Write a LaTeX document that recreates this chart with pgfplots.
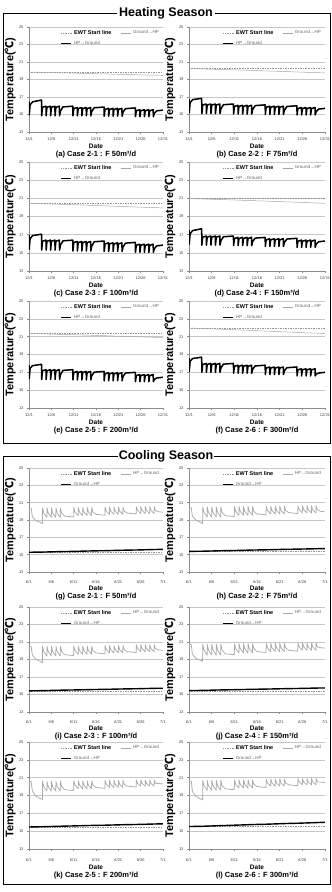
\documentclass[border=0pt]{standalone}
\usepackage{fontspec}
\setmainfont{Liberation Sans}
\newfontfamily\cjk{Noto Sans CJK KR}
\usepackage{pgfplots}
\pgfplotsset{compat=1.18}
\pgfplotsset{
  every axis title shift=0pt,
  panel/.style={
    scale only axis, width=134pt, height=105pt,
    xmin=0, xmax=30, ymin=13, ymax=25,
    ytick={13,15,17,19,21,23,25}, xtick={0,5,10,15,20,25,30},
    axis lines=left, axis line style={-, draw=black!45, line width=0.5pt},
    ymajorgrids, grid style={black!22, line width=0.5pt},
    tick style={draw=black!45, line width=0.4pt}, major tick length=2pt, tick align=outside,
    tick label style={font=\fontsize{4}{4}\selectfont, text=black!75},
    /pgf/number format/assume math mode=true,
    xlabel={Date},
    xlabel style={font=\bfseries\fontsize{6.5}{6.5}\selectfont, at={(axis description cs:0.5,0)}, anchor=center, yshift=-14pt},
    ylabel={Temperature({\cjk ℃})},
    ylabel style={font=\bfseries\fontsize{11}{11}\selectfont, at={(axis description cs:-0.14,0.5)}, anchor=center},
    title style={font=\bfseries\fontsize{7.5}{7.5}\selectfont, at={(axis description cs:0.5,0)}, anchor=center, yshift=-22.5pt},
    legend style={draw=none, fill=none, at={(axis description cs:0.985,0.99)}, anchor=north east,
      font=\fontsize{4.5}{5}\selectfont, text=black!60, inner sep=0pt, row sep=1.5pt,
      /tikz/every even column/.append style={column sep=7pt}},
    legend columns=2, legend cell align=left,
    legend image code/.code={\draw[#1] (0pt,0pt) -- (10pt,0pt);},
  },
  heat/.style={panel, xticklabels={12/1,12/6,12/11,12/16,12/21,12/26,12/31},
    legend entries={{\textcolor{black}{\bfseries\fontsize{5.5}{5.5}\selectfont EWT Start line}},{Ground→HP},{},{HP→Ground}}},
  cool/.style={panel, xticklabels={6/1,6/6,6/11,6/16,6/21,6/26,7/1},
    xticklabel style={yshift=-3pt}, xlabel style={yshift=-2.5pt}, title style={yshift=-2pt},
    legend entries={{\textcolor{black}{\bfseries\fontsize{5.5}{5.5}\selectfont EWT Start line}},{HP→Ground},{},{Ground→HP}}},
  ewt/.style={black!42, densely dotted, line width=0.65pt},
  ghp/.style={black!35, line width=0.5pt},
  hpg/.style={black, line width=1.5pt, line join=round},
  cgray/.style={black!33, line width=0.75pt, line join=round},
  cblack/.style={black, line width=1.4pt},
}
\begin{document}
\begin{tikzpicture}
\path[use as bounding box] (0pt,0pt) rectangle (332pt,-892pt);
% frames
\draw[line width=0.9pt] (117pt,-13pt) -- (3pt,-13pt) -- (3pt,-443pt) -- (330pt,-443pt) -- (330pt,-13pt) -- (215pt,-13pt);
\node[font=\bfseries\fontsize{12.5}{12.5}\selectfont] at (166pt,-13pt) {Heating Season};
\draw[line width=0.9pt] (118pt,-456pt) -- (3pt,-456pt) -- (3pt,-884pt) -- (330pt,-884pt) -- (330pt,-456pt) -- (214pt,-456pt);
\node[font=\bfseries\fontsize{12.5}{12.5}\selectfont] at (166pt,-456pt) {Cooling Season};

% (a)
\begin{axis}[heat, at={(29pt,-132pt)}, anchor=south west, height=105pt, title={(a) Case 2-1 : F 50m³/d}]
\addplot[ewt] coordinates {(0,19.85) (30,19.85)};
\addplot[ghp] coordinates {(0,19.85) (5,19.8) (10,19.73) (15,19.66) (20,19.6) (25,19.53) (30,19.48)};
\addlegendimage{empty legend}
\addplot[hpg] coordinates {(0,16.5) (0.05,14.95) (0.25,16.1) (0.8,16.45) (2.8,16.65)
(2.84,14.85) (3.02,15.83) (3.8,15.95) (3.84,14.85) (4.02,15.83) (4.8,15.95) (4.84,14.85) (5.02,15.83) (5.8,15.95) (5.84,14.85) (6.02,15.83) (6.8,15.95)
(6.84,14.85) (7.05,15.4) (7.6,15.87) (9.8,15.95)
(9.84,14.85) (10.02,15.68) (10.8,15.8) (10.84,14.85) (11.02,15.68) (11.8,15.8) (11.84,14.85) (12.02,15.68) (12.8,15.8) (12.84,14.85) (13.02,15.68) (13.8,15.8)
(13.84,14.85) (14.05,15.35) (14.6,15.77) (16.8,15.85)
(16.84,14.8) (17.02,15.58) (17.8,15.7) (17.84,14.8) (18.02,15.58) (18.8,15.7) (18.84,14.8) (19.02,15.58) (19.8,15.7) (19.84,14.8) (20.02,15.58) (20.8,15.7)
(20.84,14.8) (21.05,15.28) (21.6,15.67) (23.8,15.75)
(23.84,14.75) (24.02,15.43) (24.8,15.55) (24.84,14.75) (25.02,15.43) (25.8,15.55) (25.84,14.75) (26.02,15.43) (26.8,15.55) (26.84,14.75) (27.02,15.43) (27.8,15.55)
(27.84,14.75) (28.05,15.13) (28.6,15.42) (30,15.5)};
\end{axis}

% (b)
\begin{axis}[heat, at={(189pt,-132pt)}, anchor=south west, width=136pt, height=105pt, title={(b) Case 2-2 : F 75m³/d}]
\addplot[ewt] coordinates {(0,20.25) (30,20.25)};
\addplot[ghp] coordinates {(0,20.25) (5,20.18) (10,20.1) (15,20.02) (20,19.93) (25,19.84) (30,19.75)};
\addlegendimage{empty legend}
\addplot[hpg] coordinates {(0,16.75) (0.05,15.2) (0.25,16.35) (0.8,16.7) (2.8,16.85)
(2.84,15.1) (3.02,16.08) (3.8,16.2) (3.84,15.1) (4.02,16.08) (4.8,16.2) (4.84,15.1) (5.02,16.08) (5.8,16.2) (5.84,15.1) (6.02,16.08) (6.8,16.2)
(6.84,15.1) (7.05,15.65) (7.6,16.12) (9.8,16.2)
(9.84,15.05) (10.02,15.93) (10.8,16.05) (10.84,15.05) (11.02,15.93) (11.8,16.05) (11.84,15.05) (12.02,15.93) (12.8,16.05) (12.84,15.05) (13.02,15.93) (13.8,16.05)
(13.84,15.05) (14.05,15.58) (14.6,16.02) (16.8,16.1)
(16.84,15.0) (17.02,15.83) (17.8,15.95) (17.84,15.0) (18.02,15.83) (18.8,15.95) (18.84,15.0) (19.02,15.83) (19.8,15.95) (19.84,15.0) (20.02,15.83) (20.8,15.95)
(20.84,15.0) (21.05,15.5) (21.6,15.92) (23.8,16.0)
(23.84,14.95) (24.02,15.68) (24.8,15.8) (24.84,14.95) (25.02,15.68) (25.8,15.8) (25.84,14.95) (26.02,15.68) (26.8,15.8) (26.84,14.95) (27.02,15.68) (27.8,15.8)
(27.84,14.95) (28.05,15.33) (28.6,15.62) (30,15.7)};
\end{axis}

% (c)
\begin{axis}[heat, at={(29pt,-271pt)}, anchor=south west, height=109pt, title={(c) Case 2-3 : F 100m³/d}]
\addplot[ewt] coordinates {(0,20.45) (30,20.45)};
\addplot[ghp] coordinates {(0,20.45) (5,20.38) (10,20.3) (15,20.21) (20,20.12) (25,20.03) (30,19.95)};
\addlegendimage{empty legend}
\addplot[hpg] coordinates {(0,16.95) (0.05,15.4) (0.25,16.55) (0.8,16.9) (2.8,17.05)
(2.84,15.3) (3.02,16.28) (3.8,16.4) (3.84,15.3) (4.02,16.28) (4.8,16.4) (4.84,15.3) (5.02,16.28) (5.8,16.4) (5.84,15.3) (6.02,16.28) (6.8,16.4)
(6.84,15.3) (7.05,15.85) (7.6,16.32) (9.8,16.4)
(9.84,15.2) (10.02,16.13) (10.8,16.25) (10.84,15.2) (11.02,16.13) (11.8,16.25) (11.84,15.2) (12.02,16.13) (12.8,16.25) (12.84,15.2) (13.02,16.13) (13.8,16.25)
(13.84,15.2) (14.05,15.75) (14.6,16.22) (16.8,16.3)
(16.84,15.15) (17.02,15.98) (17.8,16.1) (17.84,15.15) (18.02,15.98) (18.8,16.1) (18.84,15.15) (19.02,15.98) (19.8,16.1) (19.84,15.15) (20.02,15.98) (20.8,16.1)
(20.84,15.15) (21.05,15.65) (21.6,16.07) (23.8,16.15)
(23.84,15.05) (24.02,15.83) (24.8,15.95) (24.84,15.05) (25.02,15.83) (25.8,15.95) (25.84,15.05) (26.02,15.83) (26.8,15.95) (26.84,15.05) (27.02,15.83) (27.8,15.95)
(27.84,15.05) (28.05,15.45) (28.6,15.77) (30,15.85)};
\end{axis}

% (d)
\begin{axis}[heat, at={(189pt,-271pt)}, anchor=south west, width=136pt, height=109pt, title={(d) Case 2-4 : F 150m³/d}]
\addplot[ewt] coordinates {(0,20.97) (30,20.97)};
\addplot[ghp] coordinates {(0,20.97) (5,20.9) (10,20.82) (15,20.73) (20,20.64) (25,20.55) (30,20.45)};
\addlegendimage{empty legend}
\addplot[hpg] coordinates {(0,17.5) (0.05,15.95) (0.25,17.1) (0.8,17.45) (2.8,17.65)
(2.84,15.85) (3.02,16.73) (3.8,16.85) (3.84,15.85) (4.02,16.73) (4.8,16.85) (4.84,15.85) (5.02,16.73) (5.8,16.85) (5.84,15.85) (6.02,16.73) (6.8,16.85)
(6.84,15.85) (7.05,16.35) (7.6,16.77) (9.8,16.85)
(9.84,15.8) (10.02,16.58) (10.8,16.7) (10.84,15.8) (11.02,16.58) (11.8,16.7) (11.84,15.8) (12.02,16.58) (12.8,16.7) (12.84,15.8) (13.02,16.58) (13.8,16.7)
(13.84,15.8) (14.05,16.25) (14.6,16.62) (16.8,16.7)
(16.84,15.7) (17.02,16.43) (17.8,16.55) (17.84,15.7) (18.02,16.43) (18.8,16.55) (18.84,15.7) (19.02,16.43) (19.8,16.55) (19.84,15.7) (20.02,16.43) (20.8,16.55)
(20.84,15.7) (21.05,16.15) (21.6,16.52) (23.8,16.6)
(23.84,15.6) (24.02,16.28) (24.8,16.4) (24.84,15.6) (25.02,16.28) (25.8,16.4) (25.84,15.6) (26.02,16.28) (26.8,16.4) (26.84,15.6) (27.02,16.28) (27.8,16.4)
(27.84,15.6) (28.05,15.95) (28.6,16.22) (30,16.3)};
\end{axis}

% (e)
\begin{axis}[heat, at={(29pt,-408pt)}, anchor=south west, height=107pt, title={(e) Case 2-5 : F 200m³/d}]
\addplot[ewt] coordinates {(0,21.35) (30,21.35)};
\addplot[ghp] coordinates {(0,21.35) (5,21.29) (10,21.22) (15,21.14) (20,21.06) (25,20.98) (30,20.9)};
\addlegendimage{empty legend}
\addplot[hpg] coordinates {(0,17.8) (0.05,16.3) (0.25,17.45) (0.8,17.75) (2.8,17.9)
(2.84,16.2) (3.02,17.18) (3.8,17.3) (3.84,16.2) (4.02,17.18) (4.8,17.3) (4.84,16.2) (5.02,17.18) (5.8,17.3) (5.84,16.2) (6.02,17.18) (6.8,17.3)
(6.84,16.2) (7.05,16.75) (7.6,17.22) (9.8,17.3)
(9.84,16.15) (10.02,16.98) (10.8,17.1) (10.84,16.15) (11.02,16.98) (11.8,17.1) (11.84,16.15) (12.02,16.98) (12.8,17.1) (12.84,16.15) (13.02,16.98) (13.8,17.1)
(13.84,16.15) (14.05,16.63) (14.6,17.02) (16.8,17.1)
(16.84,16.05) (17.02,16.83) (17.8,16.95) (17.84,16.05) (18.02,16.83) (18.8,16.95) (18.84,16.05) (19.02,16.83) (19.8,16.95) (19.84,16.05) (20.02,16.83) (20.8,16.95)
(20.84,16.05) (21.05,16.53) (21.6,16.92) (23.8,17.0)
(23.84,15.95) (24.02,16.63) (24.8,16.75) (24.84,15.95) (25.02,16.63) (25.8,16.75) (25.84,15.95) (26.02,16.63) (26.8,16.75) (26.84,15.95) (27.02,16.63) (27.8,16.75)
(27.84,15.95) (28.05,16.2) (28.6,16.37) (30,16.45)};
\end{axis}

% (f)
\begin{axis}[heat, at={(189pt,-408pt)}, anchor=south west, width=136pt, height=107pt, title={(f) Case 2-6 : F 300m³/d}]
\addplot[ewt] coordinates {(0,21.97) (30,21.97)};
\addplot[ghp] coordinates {(0,21.97) (5,21.88) (10,21.78) (15,21.67) (20,21.56) (25,21.45) (30,21.35)};
\addlegendimage{empty legend}
\addplot[hpg] coordinates {(0,18.6) (0.05,17.1) (0.25,18.25) (0.8,18.55) (2.8,18.7)
(2.84,17.0) (3.02,17.88) (3.8,18.0) (3.84,17.0) (4.02,17.88) (4.8,18.0) (4.84,17.0) (5.02,17.88) (5.8,18.0) (5.84,17.0) (6.02,17.88) (6.8,18.0)
(6.84,17.0) (7.05,17.5) (7.6,17.92) (9.8,18.0)
(9.84,16.9) (10.02,17.68) (10.8,17.8) (10.84,16.9) (11.02,17.68) (11.8,17.8) (11.84,16.9) (12.02,17.68) (12.8,17.8) (12.84,16.9) (13.02,17.68) (13.8,17.8)
(13.84,16.9) (14.05,17.35) (14.6,17.72) (16.8,17.8)
(16.84,16.75) (17.02,17.48) (17.8,17.6) (17.84,16.75) (18.02,17.48) (18.8,17.6) (18.84,16.75) (19.02,17.48) (19.8,17.6) (19.84,16.75) (20.02,17.48) (20.8,17.6)
(20.84,16.75) (21.05,17.18) (21.6,17.52) (23.8,17.6)
(23.84,16.6) (24.02,17.28) (24.8,17.4) (24.84,16.6) (25.02,17.28) (25.8,17.4) (25.84,16.6) (26.02,17.28) (26.8,17.4) (26.84,16.6) (27.02,17.28) (27.8,17.4)
(27.84,16.6) (28.05,16.8) (28.6,16.92) (30,17.0)};
\end{axis}

% (g)
\begin{axis}[cool, at={(29pt,-572pt)}, anchor=south west, height=104pt, title={(g) Case 2-1 : F 50m³/d}]
\addplot[ewt] coordinates {(0,15.25) (30,15.25)};
\addplot[cgray] coordinates {(0,18.85) (0.04,20.4) (0.5,20.35) (0.75,19.4) (1.5,18.95) (3,18.6)
(3.03,20.4) (3.3,19.8) (4,19.3) (4.03,20.4) (4.3,19.8) (5,19.3) (5.03,20.4) (5.3,19.8) (6,19.3) (6.03,20.4) (6.3,19.8) (7,19.3)
(7.03,20.4) (7.3,19.8) (8,19.45) (10,19.35)
(10.03,20.45) (10.3,19.93) (11,19.5) (11.03,20.45) (11.3,19.93) (12,19.5) (12.03,20.45) (12.3,19.93) (13,19.5) (13.03,20.45) (13.3,19.93) (14,19.5)
(14.03,20.45) (14.3,19.93) (15,19.65) (17,19.55)
(17.03,20.5) (17.3,20.03) (18,19.65) (18.03,20.5) (18.3,20.03) (19,19.65) (19.03,20.5) (19.3,20.03) (20,19.65) (20.03,20.5) (20.3,20.03) (21,19.65)
(21.03,20.5) (21.3,20.03) (22,19.8) (24,19.7)
(24.03,20.55) (24.3,20.11) (25,19.75) (25.03,20.55) (25.3,20.11) (26,19.75) (26.03,20.55) (26.3,20.11) (27,19.75) (27.03,20.55) (27.3,20.11) (28,19.75)
(28.03,20.55) (28.3,20.11) (29,19.95) (30,19.9)};
\addlegendimage{empty legend}
\addplot[cblack] coordinates {(0,15.28) (3,15.3) (7.5,15.36) (10,15.38) (14.5,15.44) (17,15.46) (21.5,15.52) (24,15.54) (28.5,15.6) (30,15.62)};
\end{axis}

% (h)
\begin{axis}[cool, at={(189pt,-572pt)}, anchor=south west, width=136pt, height=104pt, title={(h) Case 2-2 : F 75m³/d}]
\addplot[ewt] coordinates {(0,15.35) (30,15.35)};
\addplot[cgray] coordinates {(0,18.9) (0.04,20.45) (0.5,20.4) (0.75,19.45) (1.5,19.0) (3,18.6)
(3.03,20.5) (3.3,19.88) (4,19.35) (4.03,20.5) (4.3,19.88) (5,19.35) (5.03,20.5) (5.3,19.88) (6,19.35) (6.03,20.5) (6.3,19.88) (7,19.35)
(7.03,20.5) (7.3,19.88) (8,19.5) (10,19.4)
(10.03,20.55) (10.3,20.0) (11,19.55) (11.03,20.55) (11.3,20.0) (12,19.55) (12.03,20.55) (12.3,20.0) (13,19.55) (13.03,20.55) (13.3,20.0) (14,19.55)
(14.03,20.55) (14.3,20.0) (15,19.7) (17,19.6)
(17.03,20.6) (17.3,20.1) (18,19.7) (18.03,20.6) (18.3,20.1) (19,19.7) (19.03,20.6) (19.3,20.1) (20,19.7) (20.03,20.6) (20.3,20.1) (21,19.7)
(21.03,20.6) (21.3,20.1) (22,19.85) (24,19.75)
(24.03,20.65) (24.3,20.2) (25,19.8) (25.03,20.65) (25.3,20.2) (26,19.8) (26.03,20.65) (26.3,20.2) (27,19.8) (27.03,20.65) (27.3,20.2) (28,19.8)
(28.03,20.65) (28.3,20.2) (29,20.0) (30,19.95)};
\addlegendimage{empty legend}
\addplot[cblack] coordinates {(0,15.38) (3,15.4) (7.5,15.46) (10,15.48) (14.5,15.54) (17,15.56) (21.5,15.62) (24,15.64) (28.5,15.69) (30,15.7)};
\end{axis}

% (i)
\begin{axis}[cool, at={(29pt,-712pt)}, anchor=south west, height=105pt, title={(i) Case 2-3 : F 100m³/d}]
\addplot[ewt] coordinates {(0,15.38) (30,15.38)};
\addplot[cgray] coordinates {(0,19.0) (0.04,20.5) (0.5,20.45) (0.75,19.5) (1.5,19.05) (3,18.65)
(3.03,20.5) (3.3,19.92) (4,19.4) (4.03,20.5) (4.3,19.92) (5,19.4) (5.03,20.5) (5.3,19.92) (6,19.4) (6.03,20.5) (6.3,19.92) (7,19.4)
(7.03,20.5) (7.3,19.92) (8,19.55) (10,19.45)
(10.03,20.55) (10.3,20.03) (11,19.6) (11.03,20.55) (11.3,20.03) (12,19.6) (12.03,20.55) (12.3,20.03) (13,19.6) (13.03,20.55) (13.3,20.03) (14,19.6)
(14.03,20.55) (14.3,20.03) (15,19.75) (17,19.65)
(17.03,20.6) (17.3,20.14) (18,19.75) (18.03,20.6) (18.3,20.14) (19,19.75) (19.03,20.6) (19.3,20.14) (20,19.75) (20.03,20.6) (20.3,20.14) (21,19.75)
(21.03,20.6) (21.3,20.14) (22,19.9) (24,19.8)
(24.03,20.7) (24.3,20.26) (25,19.9) (25.03,20.7) (25.3,20.26) (26,19.9) (26.03,20.7) (26.3,20.26) (27,19.9) (27.03,20.7) (27.3,20.26) (28,19.9)
(28.03,20.7) (28.3,20.26) (29,20.1) (30,20.05)};
\addlegendimage{empty legend}
\addplot[cblack] coordinates {(0,15.42) (3,15.44) (7.5,15.5) (10,15.52) (14.5,15.57) (17,15.59) (21.5,15.64) (24,15.66) (28.5,15.71) (30,15.72)};
\end{axis}

% (j)
\begin{axis}[cool, at={(189pt,-712pt)}, anchor=south west, width=136pt, height=105pt, title={(j) Case 2-4 : F 150m³/d}]
\addplot[ewt] coordinates {(0,15.42) (30,15.42)};
\addplot[cgray] coordinates {(0,19.0) (0.04,20.75) (0.5,20.7) (0.75,19.6) (1.5,19.15) (3,18.8)
(3.03,20.75) (3.3,20.1) (4,19.5) (4.03,20.75) (4.3,20.1) (5,19.5) (5.03,20.75) (5.3,20.1) (6,19.5) (6.03,20.75) (6.3,20.1) (7,19.5)
(7.03,20.75) (7.3,20.1) (8,19.65) (10,19.55)
(10.03,20.8) (10.3,20.25) (11,19.75) (11.03,20.8) (11.3,20.25) (12,19.75) (12.03,20.8) (12.3,20.25) (13,19.75) (13.03,20.8) (13.3,20.25) (14,19.75)
(14.03,20.8) (14.3,20.25) (15,19.9) (17,19.8)
(17.03,20.85) (17.3,20.35) (18,19.9) (18.03,20.85) (18.3,20.35) (19,19.9) (19.03,20.85) (19.3,20.35) (20,19.9) (20.03,20.85) (20.3,20.35) (21,19.9)
(21.03,20.85) (21.3,20.35) (22,20.05) (24,19.95)
(24.03,20.9) (24.3,20.45) (25,20.05) (25.03,20.9) (25.3,20.45) (26,20.05) (26.03,20.9) (26.3,20.45) (27,20.05) (27.03,20.9) (27.3,20.45) (28,20.05)
(28.03,20.9) (28.3,20.45) (29,20.35) (30,20.3)};
\addlegendimage{empty legend}
\addplot[cblack] coordinates {(0,15.45) (3,15.47) (7.5,15.53) (10,15.55) (14.5,15.6) (17,15.62) (21.5,15.67) (24,15.69) (28.5,15.74) (30,15.75)};
\end{axis}

% (k)
\begin{axis}[cool, at={(29pt,-849pt)}, anchor=south west, height=107pt, title={(k) Case 2-5 : F 200m³/d}, xticklabel style={yshift=-1.5pt}, xlabel style={yshift=-2pt}, title style={yshift=-2pt}]
\addplot[ewt] coordinates {(0,15.45) (30,15.45)};
\addplot[cgray] coordinates {(0,18.8) (0.04,20.6) (0.5,20.55) (0.75,19.5) (1.5,18.95) (3,18.55)
(3.03,20.6) (3.3,20.0) (4,19.5) (4.03,20.6) (4.3,20.0) (5,19.5) (5.03,20.6) (5.3,20.0) (6,19.5) (6.03,20.6) (6.3,20.0) (7,19.5)
(7.03,20.6) (7.3,20.0) (8,19.65) (10,19.55)
(10.03,20.65) (10.3,20.17) (11,19.75) (11.03,20.65) (11.3,20.17) (12,19.75) (12.03,20.65) (12.3,20.17) (13,19.75) (13.03,20.65) (13.3,20.17) (14,19.75)
(14.03,20.65) (14.3,20.17) (15,19.9) (17,19.8)
(17.03,20.7) (17.3,20.27) (18,19.9) (18.03,20.7) (18.3,20.27) (19,19.9) (19.03,20.7) (19.3,20.27) (20,19.9) (20.03,20.7) (20.3,20.27) (21,19.9)
(21.03,20.7) (21.3,20.27) (22,20.05) (24,19.95)
(24.03,20.75) (24.3,20.37) (25,20.05) (25.03,20.75) (25.3,20.37) (26,20.05) (26.03,20.75) (26.3,20.37) (27,20.05) (27.03,20.75) (27.3,20.37) (28,20.05)
(28.03,20.75) (28.3,20.37) (29,20.35) (30,20.3)};
\addlegendimage{empty legend}
\addplot[cblack] coordinates {(0,15.47) (3,15.5) (7.5,15.56) (10,15.59) (14.5,15.65) (17,15.67) (21.5,15.73) (24,15.75) (28.5,15.81) (30,15.82)};
\end{axis}

% (l)
\begin{axis}[cool, at={(189pt,-849pt)}, anchor=south west, width=136pt, height=107pt, title={(l) Case 2-6 : F 300m³/d}, xticklabel style={yshift=-1.5pt}, xlabel style={yshift=-2pt}, title style={yshift=-2pt}]
\addplot[ewt] coordinates {(0,15.5) (30,15.5)};
\addplot[cgray] coordinates {(0,18.7) (0.04,20.65) (0.5,20.6) (0.75,19.45) (1.5,18.9) (3,18.5)
(3.03,20.7) (3.3,20.1) (4,19.6) (4.03,20.7) (4.3,20.1) (5,19.6) (5.03,20.7) (5.3,20.1) (6,19.6) (6.03,20.7) (6.3,20.1) (7,19.6)
(7.03,20.7) (7.3,20.1) (8,19.75) (10,19.65)
(10.03,20.75) (10.3,20.27) (11,19.85) (11.03,20.75) (11.3,20.27) (12,19.85) (12.03,20.75) (12.3,20.27) (13,19.85) (13.03,20.75) (13.3,20.27) (14,19.85)
(14.03,20.75) (14.3,20.27) (15,20.0) (17,19.9)
(17.03,20.85) (17.3,20.42) (18,20.05) (18.03,20.85) (18.3,20.42) (19,20.05) (19.03,20.85) (19.3,20.42) (20,20.05) (20.03,20.85) (20.3,20.42) (21,20.05)
(21.03,20.85) (21.3,20.42) (22,20.2) (24,20.1)
(24.03,20.9) (24.3,20.52) (25,20.2) (25.03,20.9) (25.3,20.52) (26,20.2) (26.03,20.9) (26.3,20.52) (27,20.2) (27.03,20.9) (27.3,20.52) (28,20.2)
(28.03,20.9) (28.3,20.52) (29,20.5) (30,20.45)};
\addlegendimage{empty legend}
\addplot[cblack] coordinates {(0,15.52) (3,15.55) (7.5,15.63) (10,15.67) (14.5,15.75) (17,15.78) (21.5,15.86) (24,15.89) (28.5,15.97) (30,16.0)};
\end{axis}
\end{tikzpicture}
\end{document}
